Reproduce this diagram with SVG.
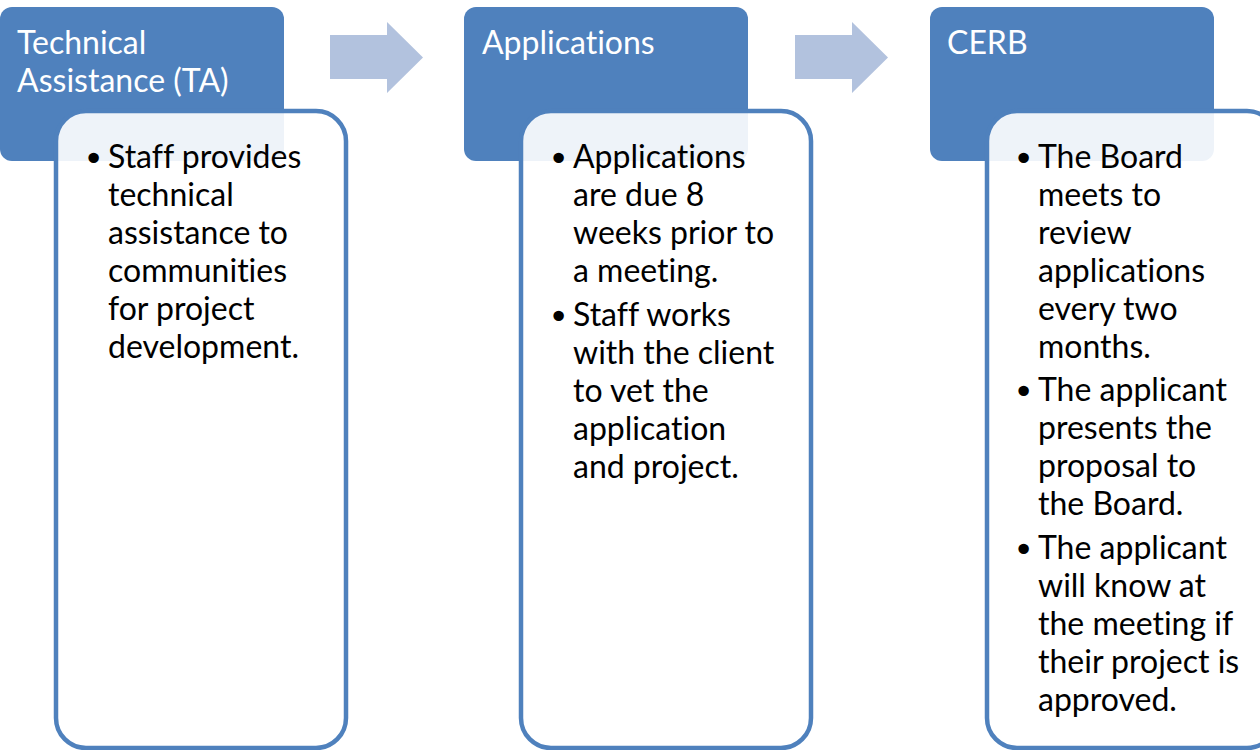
<svg xmlns="http://www.w3.org/2000/svg" width="1260" height="750" viewBox="0 0 1260 750">
  <style>
    .hdr { fill: #4F81BD; }
    .card { fill: #FFFFFF; fill-opacity: 0.9; stroke: #4F81BD; stroke-width: 4.5; }
    .arrow { fill: #B2C2DE; }
    .ht { font-family: Lato, "Open Sans", sans-serif; font-size: 32px; fill: #FFFFFF; font-variant-ligatures: none; }
    .bt { font-family: Lato, "Open Sans", sans-serif; font-size: 32px; fill: #000000; font-variant-ligatures: none; }
    .bl { font-family: "DejaVu Sans", sans-serif; font-size: 36px; fill: #000000; }
  </style>
  <rect width="1260" height="750" fill="#FFFFFF"/>

  <g id="connectors">
    <polygon class="arrow" points="330,35 387,35 387,22 423,57.5 387,93 387,79 330,79"/>
    <polygon class="arrow" points="795,35 852,35 852,22 888,57.5 852,93 852,79 795,79"/>
  </g>

  <g id="node-ta">
    <rect class="hdr" x="0" y="7" width="284" height="154" rx="12"/>
    <text class="ht" x="17" y="54">Technical</text>
    <text class="ht" x="17" y="92">Assistance (TA)</text>
    <rect class="card" x="56" y="111" width="290" height="637" rx="30"/>
    <text class="bl" x="83" y="171">•</text>
    <text class="bt" x="108" y="168">Staff provides</text>
    <text class="bt" x="108" y="206">technical</text>
    <text class="bt" x="108" y="244">assistance to</text>
    <text class="bt" x="108" y="282">communities</text>
    <text class="bt" x="108" y="320">for project</text>
    <text class="bt" x="108" y="358">development.</text>
  </g>

  <g id="node-applications">
    <rect class="hdr" x="464" y="7" width="284" height="154" rx="12"/>
    <text class="ht" x="482" y="54">Applications</text>
    <rect class="card" x="521" y="111" width="290" height="637" rx="30"/>
    <text class="bl" x="548" y="171">•</text>
    <text class="bt" x="573" y="168">Applications</text>
    <text class="bt" x="573" y="206">are due 8</text>
    <text class="bt" x="573" y="244">weeks prior to</text>
    <text class="bt" x="573" y="282">a meeting.</text>
    <text class="bl" x="548" y="329">•</text>
    <text class="bt" x="573" y="326">Staff works</text>
    <text class="bt" x="573" y="364">with the client</text>
    <text class="bt" x="573" y="402">to vet the</text>
    <text class="bt" x="573" y="440">application</text>
    <text class="bt" x="573" y="478">and project.</text>
  </g>

  <g id="node-cerb">
    <rect class="hdr" x="930" y="7" width="284" height="154" rx="12"/>
    <text class="ht" x="947" y="54">CERB</text>
    <rect class="card" x="987" y="111" width="290" height="637" rx="30"/>
    <text class="bl" x="1013" y="171">•</text>
    <text class="bt" x="1038" y="168">The Board</text>
    <text class="bt" x="1038" y="206">meets to</text>
    <text class="bt" x="1038" y="244">review</text>
    <text class="bt" x="1038" y="282">applications</text>
    <text class="bt" x="1038" y="320">every two</text>
    <text class="bt" x="1038" y="358">months.</text>
    <text class="bl" x="1013" y="404">•</text>
    <text class="bt" x="1038" y="401">The applicant</text>
    <text class="bt" x="1038" y="439">presents the</text>
    <text class="bt" x="1038" y="477">proposal to</text>
    <text class="bt" x="1038" y="515">the Board.</text>
    <text class="bl" x="1013" y="562">•</text>
    <text class="bt" x="1038" y="559">The applicant</text>
    <text class="bt" x="1038" y="597">will know at</text>
    <text class="bt" x="1038" y="635">the meeting if</text>
    <text class="bt" x="1038" y="673">their project is</text>
    <text class="bt" x="1038" y="711">approved.</text>
  </g>
</svg>
